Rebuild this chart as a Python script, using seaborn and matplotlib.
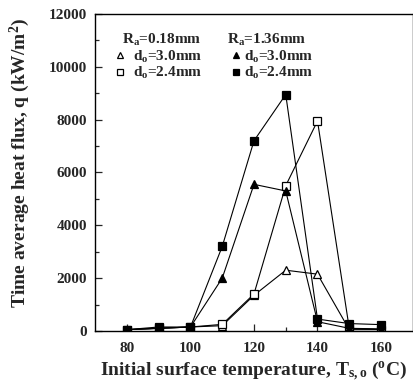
import matplotlib
matplotlib.use("Agg")
import matplotlib.pyplot as plt
import seaborn as sns
import pandas as pd
from matplotlib.lines import Line2D

# Initial surface temperature (°C)
temps = [80, 90, 100, 110, 120, 130, 140, 150, 160]

# Time-averaged heat flux (kW/m^2)
q_ra018_d30 = [50, 100, 150, 200, 1350, 2300, 2150, 50, 50]
q_ra018_d24 = [50, 100, 150, 250, 1400, 5500, 7950, 100, 50]
q_ra136_d30 = [50, 100, 150, 2000, 5550, 5300, 350, 100, 80]
q_ra136_d24 = [50, 150, 150, 3200, 7200, 8950, 450, 280, 240]

series_labels = ["d$_o$=3.0mm", "d$_o$=2.4mm", "d$_o$=3.0mm", "d$_o$=2.4mm"]
group_labels = ["R$_a$=0.18mm", "R$_a$=1.36mm"]

sns.set_style("ticks")
plt.rcParams["font.family"] = ["Liberation Serif", "DejaVu Serif"]
plt.rcParams["font.weight"] = "bold"
plt.rcParams["mathtext.fontset"] = "custom"
plt.rcParams["mathtext.rm"] = "Liberation Serif:bold"
plt.rcParams["mathtext.it"] = "Liberation Serif:bold"
plt.rcParams["mathtext.bf"] = "Liberation Serif:bold"
plt.rcParams["mathtext.default"] = "rm"

fig = plt.figure(figsize=(4.14, 3.88), dpi=100)
ax = fig.add_axes([0.230, 0.147, 0.767, 0.817])

styles = [
    (q_ra018_d30, "^", "white"),
    (q_ra018_d24, "s", "white"),
    (q_ra136_d30, "^", "black"),
    (q_ra136_d24, "s", "black"),
]

handles = []
for (vals, mk, fc), lab in zip(styles, series_labels):
    df = pd.DataFrame({"T": temps, "q": vals})
    sns.lineplot(data=df, x="T", y="q", ax=ax, color="black", lw=0.8,
                 marker=mk, markersize=6.2, markerfacecolor=fc,
                 markeredgecolor="black", markeredgewidth=0.9)
    handles.append(Line2D([], [], ls="none", marker=mk, markersize=5,
                          markerfacecolor=fc, markeredgecolor="black",
                          markeredgewidth=0.9, label=lab))

ax.set_xlim(70, 170)
ax.set_ylim(0, 12000)
ax.set_xticks([80, 100, 120, 140, 160])
ax.set_xticks([90, 110, 130, 150], minor=True)
ax.set_yticks(range(0, 12001, 2000))
ax.set_yticks(range(1000, 12000, 2000), minor=True)
ax.tick_params(which="both", direction="in", top=False, right=False,
               labelsize=11, width=0.9)
ax.tick_params(which="major", length=5)
ax.tick_params(which="minor", length=3)
ax.tick_params(axis="x", which="major", pad=8)
ax.tick_params(axis="y", which="major", pad=6)
for lbl in ax.get_xticklabels() + ax.get_yticklabels():
    lbl.set_fontweight("bold")
for sp in ax.spines.values():
    sp.set_linewidth(1.0)
    sp.set_color("black")

ax.set_xlabel("Initial surface temperature, T$_{s,o}$ ($^{o}$C)",
              fontsize=14, fontweight="bold", labelpad=3)
ax.set_ylabel("Time average heat flux, q (kW/m$^{2}$)",
              fontsize=14, fontweight="bold")
ax.yaxis.set_label_coords(-0.198, 0.53)

# two legend columns, one per roughness group
leg_kw = dict(loc="center left", frameon=False, fontsize=11,
              handlelength=0.8, labelspacing=0.05, borderpad=0,
              borderaxespad=0)
leg1 = ax.legend(handles=handles[:2], bbox_to_anchor=(0.060, 0.839),
                 handletextpad=0.45, **leg_kw)
ax.add_artist(leg1)
leg2 = ax.legend(handles=handles[2:], bbox_to_anchor=(0.425, 0.839),
                 handletextpad=0.1, **leg_kw)
for lg in (leg1, leg2):
    for t in lg.get_texts():
        t.set_fontweight("bold")

ax.text(0.085, 0.918, group_labels[0], transform=ax.transAxes,
        fontsize=11, fontweight="bold", va="center", ha="left")
ax.text(0.415, 0.918, group_labels[1], transform=ax.transAxes,
        fontsize=11, fontweight="bold", va="center", ha="left")

fig.savefig("out.png", dpi=100)
